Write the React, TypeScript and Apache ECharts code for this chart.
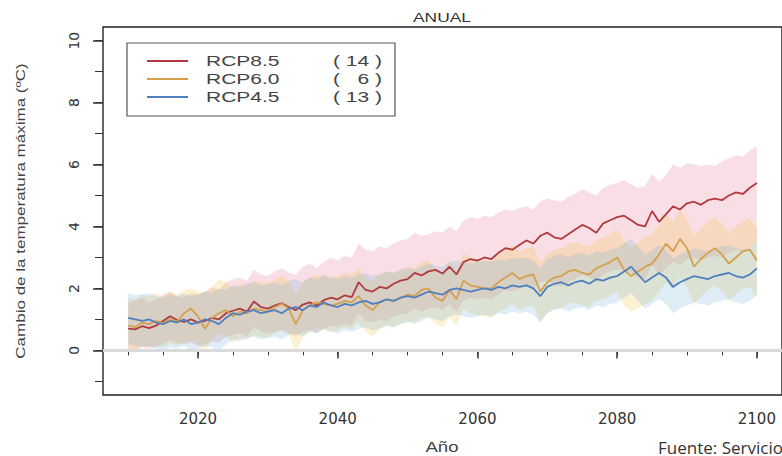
import React, { useEffect, useRef } from "react";
import * as echarts from "echarts";

const START_YEAR = 2010;

// RCP8.5 ensemble mean and band (2010-2100)
const rcp85Mean = [
  0.70, 0.68, 0.78, 0.72, 0.80, 0.95, 1.10, 0.98, 0.92, 1.00,
  0.90, 0.95, 1.05, 1.00, 1.20, 1.28, 1.35, 1.25, 1.58, 1.40,
  1.35, 1.45, 1.52, 1.40, 1.30, 1.48, 1.55, 1.45, 1.62, 1.70,
  1.65, 1.78, 1.72, 2.20, 1.95, 1.90, 2.05, 2.00, 2.15, 2.25,
  2.30, 2.50, 2.42, 2.55, 2.60, 2.48, 2.70, 2.45, 2.85, 2.95,
  2.90, 3.00, 2.95, 3.15, 3.30, 3.25, 3.40, 3.55, 3.45, 3.70,
  3.80, 3.65, 3.60, 3.75, 3.90, 4.05, 3.95, 3.80, 4.10, 4.20,
  4.30, 4.35, 4.20, 4.05, 4.00, 4.50, 4.15, 4.40, 4.65, 4.55,
  4.75, 4.80, 4.70, 4.85, 4.90, 4.85, 5.00, 5.10, 5.05, 5.25,
  5.40,
];
const rcp85Upper = [
  1.55, 1.60, 1.70, 1.55, 1.65, 1.80, 1.90, 1.75, 1.70, 1.85,
  1.80, 1.90, 2.05, 1.95, 2.20, 2.30, 2.35, 2.25, 2.60, 2.45,
  2.40, 2.55, 2.65, 2.50, 2.45, 2.70, 2.80, 2.65, 2.85, 3.00,
  2.90, 3.05, 3.00, 3.45, 3.25, 3.20, 3.35, 3.30, 3.45, 3.55,
  3.60, 3.80, 3.70, 3.75, 3.85, 3.80, 4.00, 3.85, 4.20, 4.30,
  4.25, 4.35, 4.30, 4.45, 4.55, 4.50, 4.60, 4.65, 4.55, 4.80,
  4.90, 4.85, 4.80, 4.95, 5.05, 5.20, 5.10, 5.00, 5.25, 5.35,
  5.40, 5.50, 5.35, 5.25, 5.30, 5.70, 5.45, 5.65, 6.00, 5.90,
  6.05, 6.00, 5.95, 6.00, 5.95, 6.10, 6.20, 6.30, 6.25, 6.45,
  6.60,
];
const rcp85Lower = [
  0.05, 0.00, 0.10, 0.05, 0.10, 0.20, 0.35, 0.25, 0.20, 0.25,
  0.15, 0.20, 0.30, 0.25, 0.45, 0.50, 0.55, 0.45, 0.75, 0.60,
  0.55, 0.60, 0.65, 0.55, 0.45, 0.60, 0.65, 0.55, 0.70, 0.80,
  0.75, 0.85, 0.80, 1.20, 0.95, 0.90, 1.00, 0.95, 1.10, 1.15,
  1.20, 1.35, 1.25, 1.35, 1.40, 1.30, 1.50, 1.25, 1.60, 1.70,
  1.65, 1.70, 1.65, 1.80, 1.95, 1.90, 2.00, 2.10, 2.00, 2.20,
  2.25, 2.10, 2.05, 2.20, 2.30, 2.45, 2.35, 2.20, 2.45, 2.55,
  2.60, 2.65, 2.50, 2.35, 2.30, 2.75, 2.45, 2.65, 2.85, 2.75,
  2.95, 3.00, 2.90, 3.00, 3.05, 3.00, 3.15, 3.25, 3.20, 3.35,
  3.50,
];

// RCP6.0
const rcp60Mean = [
  0.80, 0.75, 0.90, 0.85, 0.95, 0.88, 1.00, 0.92, 1.20, 1.35,
  1.10, 0.70, 1.05, 1.20, 1.30, 1.10, 1.25, 1.20, 1.35, 1.30,
  1.25, 1.40, 1.50, 1.35, 0.85, 1.30, 1.45, 1.55, 1.50, 1.45,
  1.50, 1.60, 1.55, 1.75, 1.45, 1.30, 1.55, 1.65, 1.60, 1.70,
  1.80, 1.75, 1.95, 2.00, 1.70, 1.60, 1.95, 1.65, 2.25, 2.10,
  2.05, 2.00, 2.00, 2.20, 2.35, 2.50, 2.30, 2.40, 2.45, 1.90,
  2.20, 2.35, 2.40, 2.55, 2.60, 2.50, 2.45, 2.65, 2.75, 2.85,
  3.00, 2.60, 2.40, 2.55, 2.70, 2.80, 3.10, 3.45, 3.20, 3.60,
  3.30, 2.70, 2.95, 3.15, 3.30, 3.10, 2.80, 3.00, 3.20, 3.25,
  2.90,
];
const rcp60Upper = [
  1.70, 1.65, 1.80, 1.75, 1.85, 1.75, 1.90, 1.80, 1.95, 2.00,
  1.90, 1.85, 2.05, 2.30, 2.20, 2.00, 2.15, 2.10, 2.25, 2.20,
  2.15, 2.30, 2.40, 2.25, 1.80, 2.20, 2.35, 2.45, 2.40, 2.35,
  2.40, 2.50, 2.45, 2.65, 2.35, 2.20, 2.45, 2.55, 2.50, 2.60,
  2.70, 2.65, 2.85, 2.90, 2.60, 2.50, 2.85, 2.55, 3.15, 3.00,
  2.95, 2.90, 2.90, 3.10, 3.25, 3.40, 3.20, 3.30, 3.35, 2.85,
  3.10, 3.25, 3.30, 3.45, 3.50, 3.40, 3.35, 3.55, 3.65, 3.75,
  3.90, 3.55, 3.35, 3.50, 3.65, 3.75, 4.05, 4.40, 4.15, 4.55,
  4.25, 3.70, 3.95, 4.15, 4.30, 4.10, 3.80, 4.00, 4.20, 4.25,
  3.95,
];
const rcp60Lower = [
  0.05, 0.00, 0.15, 0.10, 0.20, 0.10, 0.25, 0.15, 0.25, 0.30,
  0.20, -0.05, 0.35, 0.55, 0.45, 0.25, 0.40, 0.35, 0.50, 0.45,
  0.40, 0.55, 0.65, 0.50, -0.05, 0.45, 0.60, 0.70, 0.65, 0.60,
  0.65, 0.75, 0.70, 0.90, 0.60, 0.45, 0.70, 0.80, 0.75, 0.85,
  0.95, 0.90, 1.05, 1.10, 0.85, 0.75, 1.05, 0.80, 1.35, 1.20,
  1.15, 1.10, 1.05, 1.25, 1.35, 1.50, 1.30, 1.40, 1.45, 0.95,
  1.20, 1.35, 1.35, 1.50, 1.55, 1.45, 1.40, 1.60, 1.65, 1.75,
  1.90, 1.45, 1.25, 1.35, 1.50, 1.60, 1.90, 2.20, 1.95, 2.35,
  2.05, 1.50, 1.75, 1.95, 2.10, 1.90, 1.60, 1.80, 2.00, 2.05,
  1.70,
];

// RCP4.5
const rcp45Mean = [
  1.05, 1.00, 0.95, 1.00, 0.90, 0.85, 0.95, 0.90, 1.00, 0.85,
  0.90, 1.00, 0.95, 0.85, 1.05, 1.20, 1.15, 1.25, 1.30, 1.20,
  1.25, 1.30, 1.20, 1.35, 1.40, 1.30, 1.45, 1.40, 1.55, 1.45,
  1.40, 1.50, 1.45, 1.55, 1.60, 1.50, 1.55, 1.65, 1.60, 1.70,
  1.75, 1.70, 1.80, 1.90, 1.85, 1.80, 1.95, 2.00, 1.95, 1.90,
  1.95, 2.00, 1.95, 2.05, 2.00, 2.10, 2.05, 2.10, 2.00, 1.75,
  2.05, 2.15, 2.20, 2.10, 2.20, 2.25, 2.15, 2.30, 2.25, 2.35,
  2.40, 2.55, 2.70, 2.45, 2.20, 2.35, 2.50, 2.35, 2.05, 2.20,
  2.30, 2.40, 2.35, 2.30, 2.40, 2.45, 2.50, 2.40, 2.35, 2.45,
  2.65,
];
const rcp45Upper = [
  1.85, 1.80, 1.80, 1.85, 1.75, 1.70, 1.80, 1.75, 1.85, 1.75,
  1.80, 1.90, 1.85, 2.00, 1.95, 2.10, 2.05, 2.15, 2.20, 2.10,
  2.15, 2.20, 2.10, 2.25, 2.30, 2.20, 2.35, 2.30, 2.45, 2.35,
  2.30, 2.40, 2.35, 2.45, 2.50, 2.40, 2.45, 2.55, 2.50, 2.60,
  2.65, 2.60, 2.70, 2.80, 2.75, 2.70, 2.85, 2.90, 2.85, 2.80,
  2.85, 2.90, 2.85, 2.95, 2.90, 3.00, 2.95, 3.00, 2.90, 2.65,
  2.95, 3.05, 3.10, 3.00, 3.10, 3.15, 3.05, 3.20, 3.15, 3.25,
  3.30, 3.45, 3.60, 3.35, 3.10, 3.25, 3.40, 3.25, 2.95, 3.10,
  3.20, 3.30, 3.25, 3.20, 3.30, 3.35, 3.40, 3.30, 3.25, 3.35,
  3.55,
];
const rcp45Lower = [
  0.20, 0.15, 0.10, 0.15, 0.05, 0.00, 0.10, 0.05, 0.15, 0.00,
  0.05, 0.15, 0.10, 0.00, 0.20, 0.35, 0.30, 0.40, 0.45, 0.35,
  0.40, 0.45, 0.35, 0.50, 0.55, 0.45, 0.60, 0.55, 0.70, 0.60,
  0.55, 0.65, 0.60, 0.70, 0.75, 0.65, 0.70, 0.80, 0.75, 0.85,
  0.90, 0.85, 0.95, 1.05, 1.00, 0.95, 1.10, 1.15, 1.10, 1.05,
  1.10, 1.15, 1.10, 1.20, 1.15, 1.25, 1.20, 1.25, 1.15, 0.90,
  1.20, 1.30, 1.35, 1.25, 1.35, 1.40, 1.30, 1.45, 1.40, 1.50,
  1.55, 1.70, 1.85, 1.60, 1.35, 1.50, 1.65, 1.50, 1.20, 1.35,
  1.45, 1.55, 1.50, 1.45, 1.55, 1.60, 1.65, 1.55, 1.50, 1.60,
  1.80,
];

const years = rcp85Mean.map((_, i) => START_YEAR + i);

const xTickYears = [2010, 2015, 2020, 2025, 2030, 2035, 2040, 2045, 2050, 2055, 2060, 2065, 2070, 2075, 2080, 2085, 2090, 2095, 2100];
const xLabelYears = [2020, 2040, 2060, 2080, 2100];
const yTicks = [-1, 0, 1, 2, 3, 4, 5, 6, 7, 8, 9, 10];
const yLabels = [0, 2, 4, 6, 8, 10];

const scenarioNames = ["RCP8.5", "RCP6.0", "RCP4.5"];
const scenarioCounts = ["( 14 )", "(   6 )", "( 13 )"];
const lineColors = ["#b03a3e", "#d5a04e", "#4f7fbf"];
const bandColors = [
  "rgba(226, 96, 124, 0.20)",
  "rgba(242, 196, 72, 0.24)",
  "rgba(104, 172, 216, 0.22)",
];

const TITLE = "ANUAL";
const X_NAME = "Año";
const Y_NAME = "Cambio de la temperatura máxima (ºC)";
const SOURCE = "Fuente: Servicio Meteorológico Nacional";

const X_MIN = 2006.4;
const X_MAX = 2103.6;
const Y_MIN = -1.44;
const Y_MAX = 10.44;

function pairs(vals: number[]) {
  return years.map((y, i) => [y, vals[i]]);
}

// value first, year second so that stacking acts on the value dimension
function valueYear(vals: number[]) {
  return years.map((y, i) => [vals[i], y]);
}

function bandSeries(key: string, lower: number[], upper: number[], color: string, withZero: boolean) {
  const lo: any = {
    type: "line",
    name: key + "_lo",
    data: valueYear(lower),
    encode: { x: 1, y: 0 },
    stack: key,
    stackStrategy: "all",
    symbol: "none",
    silent: true,
    lineStyle: { opacity: 0 },
    z: 1,
  };
  if (withZero) {
    lo.markLine = {
      silent: true,
      symbol: ["none", "none"],
      label: { show: false },
      lineStyle: { color: "#dadada", width: 3, type: "solid" },
      data: [{ yAxis: 0 }],
    };
  }
  const diff = upper.map((u, i) => +(u - lower[i]).toFixed(3));
  const hi = {
    type: "line",
    name: key + "_band",
    data: valueYear(diff),
    encode: { x: 1, y: 0 },
    stack: key,
    stackStrategy: "all",
    symbol: "none",
    silent: true,
    lineStyle: { opacity: 0 },
    areaStyle: { color, opacity: 1 },
    z: 1,
  };
  return [lo, hi];
}

export default function App() {
  const ref = useRef<HTMLDivElement>(null);

  useEffect(() => {
    if (!ref.current) return;
    const chart = echarts.init(ref.current, undefined, { renderer: "svg" });

    const means = [rcp85Mean, rcp60Mean, rcp45Mean];
    const lowers = [rcp85Lower, rcp60Lower, rcp45Lower];
    const uppers = [rcp85Upper, rcp60Upper, rcp45Upper];

    const series: any[] = [];
    for (let k = 0; k < 3; k++) {
      series.push(...bandSeries("b" + k, lowers[k], uppers[k], bandColors[k], k === 0));
    }
    for (let k = 0; k < 3; k++) {
      series.push({
        type: "line",
        name: scenarioNames[k],
        data: pairs(means[k]),
        symbol: "none",
        silent: true,
        lineStyle: { color: lineColors[k], width: 1.8 },
        z: 3,
      });
    }

    const textFont = '"Liberation Sans", Arial, sans-serif';
    const graphic: any[] = [
      {
        type: "text",
        x: 442,
        y: 17,
        scaleX: 1.34,
        z: 100,
        style: { text: TITLE, fontFamily: textFont, fontSize: 13, fill: "#333", textAlign: "center", textVerticalAlign: "middle" },
      },
      {
        type: "text",
        x: 442,
        y: 447,
        scaleX: 1.33,
        z: 100,
        style: { text: X_NAME, fontFamily: textFont, fontSize: 14, fill: "#444", textAlign: "center", textVerticalAlign: "middle" },
      },
      {
        type: "text",
        x: 20,
        y: 211,
        rotation: Math.PI / 2,
        scaleX: 1.31,
        z: 100,
        style: { text: Y_NAME, fontFamily: textFont, fontSize: 13, fill: "#444", textAlign: "center", textVerticalAlign: "middle" },
      },
      {
        type: "rect",
        z: 100,
        shape: { x: 127, y: 43, width: 268, height: 73 },
        style: { fill: "#fff", stroke: "#555", lineWidth: 1.2 },
      },
      {
        type: "text",
        x: 658,
        y: 447,
        z: 100,
        style: { text: SOURCE, fontFamily: '"Open Sans", sans-serif', fontSize: 17, fill: "#333", textAlign: "left", textVerticalAlign: "middle" },
      },
    ];
    for (let k = 0; k < 3; k++) {
      const yy = 61 + k * 18;
      graphic.push({
        type: "line",
        z: 101,
        shape: { x1: 147, y1: yy, x2: 188, y2: yy },
        style: { stroke: lineColors[k], lineWidth: 2 },
      });
      graphic.push({
        type: "text",
        x: 206,
        y: yy,
        scaleX: 1.4,
        z: 101,
        style: { text: scenarioNames[k], fontFamily: textFont, fontSize: 15, fill: "#444", textAlign: "left", textVerticalAlign: "middle" },
      });
      graphic.push({
        type: "text",
        x: 333,
        y: yy,
        scaleX: 1.4,
        z: 101,
        style: { text: scenarioCounts[k], fontFamily: textFont, fontSize: 15, fill: "#444", textAlign: "left", textVerticalAlign: "middle" },
      });
    }

    chart.setOption({
      animation: false,
      backgroundColor: "#fff",
      grid: {
        left: 103,
        top: 27,
        width: 680,
        height: 368,
        show: true,
        borderColor: "#222",
        borderWidth: 1.4,
        backgroundColor: "transparent",
      },
      xAxis: [
        {
          type: "value",
          min: X_MIN,
          max: X_MAX,
          axisLine: { show: false },
          splitLine: { show: false },
          axisTick: { show: true, customValues: xTickYears, length: 5, lineStyle: { color: "#333", width: 1 } },
          axisLabel: {
            customValues: xLabelYears,
            formatter: (v: number) => String(v),
            margin: 16,
            color: "#333",
            fontFamily: '"DejaVu Sans", sans-serif',
            fontSize: 15,
          },
        },
        {
          type: "value",
          position: "bottom",
          min: X_MIN,
          max: X_MAX,
          axisLine: { show: false },
          splitLine: { show: false },
          axisTick: { show: true, customValues: xLabelYears, length: 8, lineStyle: { color: "#333", width: 1.5 } },
          axisLabel: { show: false },
        },
      ],
      yAxis: [
        {
          type: "value",
          min: Y_MIN,
          max: Y_MAX,
          axisLine: { show: false },
          splitLine: { show: false },
          axisTick: { show: true, customValues: yTicks, length: 8, lineStyle: { color: "#333", width: 1 } },
          axisLabel: {
            customValues: yLabels,
            formatter: (v: number) => String(v),
            rotate: 90,
            margin: 22,
            color: "#333",
            fontFamily: '"DejaVu Sans", sans-serif',
            fontSize: 14,
          },
        },
        {
          type: "value",
          position: "left",
          min: Y_MIN,
          max: Y_MAX,
          axisLine: { show: false },
          splitLine: { show: false },
          axisTick: { show: true, customValues: yLabels, length: 10, lineStyle: { color: "#333", width: 1.5 } },
          axisLabel: { show: false },
        },
      ],
      series,
      graphic,
    });

    return () => chart.dispose();
  }, []);

  return (
    <div
      ref={ref}
      style={{ position: "absolute", left: 0, top: 0, width: 782, height: 456, background: "#fff" }}
    />
  );
}
